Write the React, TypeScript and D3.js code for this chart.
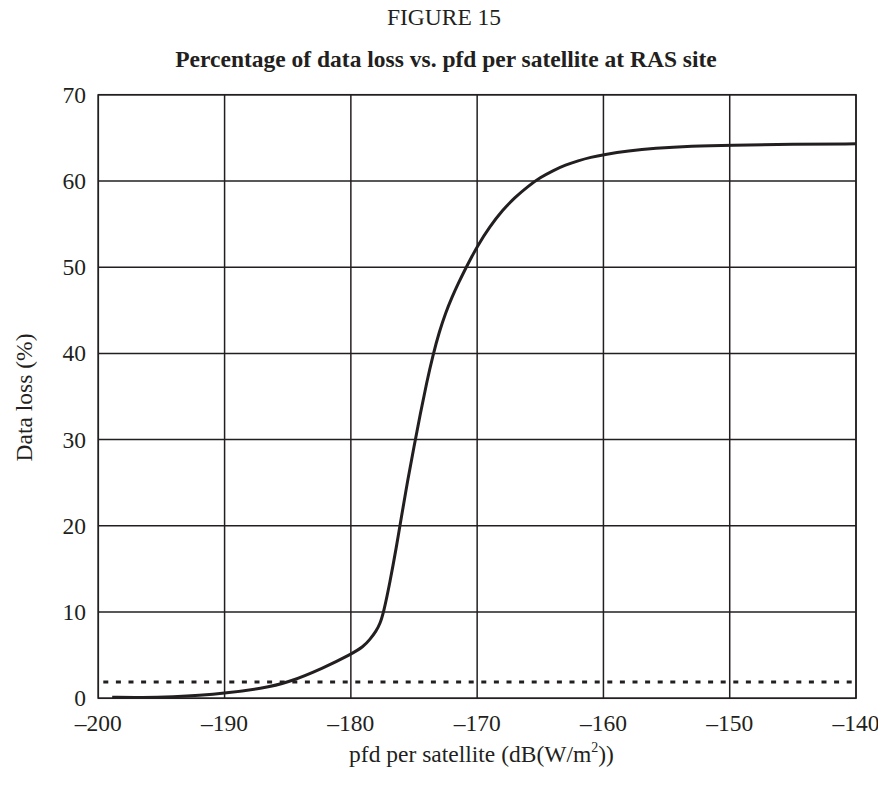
import React from "react";
import * as d3 from "d3";

const xTicks = [-200, -190, -180, -170, -160, -150, -140];
const yTicks = [0, 10, 20, 30, 40, 50, 60, 70];

const pfd = [-198.9, -196.5, -194, -192, -190, -187, -185, -182.2, -180, -179, -178.5, -178, -177.7, -177.4, -176.9, -176.4, -176.0, -175.5, -175, -174.5, -174, -173.5, -173, -172.5, -172, -171.5, -171, -170.5, -170, -169, -168, -167, -166, -165, -164, -163, -162, -161, -160, -158, -156, -153, -150, -145, -140];
const loss = [0.12, 0.08, 0.18, 0.33, 0.58, 1.15, 1.8, 3.5, 5.1, 6.0, 6.8, 7.8, 8.6, 10, 13.5, 17.5, 21, 25.3, 29.2, 33.0, 36.6, 39.8, 42.5, 44.7, 46.5, 48.1, 49.6, 51.0, 52.4, 54.7, 56.6, 58.1, 59.35, 60.4, 61.2, 61.85, 62.35, 62.75, 63.05, 63.5, 63.8, 64.05, 64.15, 64.25, 64.3];
const threshold = 1.9;

const W = 878;
const H = 786;
const left = 98.3;
const right = 856;
const top = 94.7;
const bottom = 698.3;
const ink = "#231f20";
const font = "'Liberation Serif', 'Times New Roman', serif";

export default function App() {
  const x = d3.scaleLinear().domain([-200, -140]).range([left, right]);
  const y = d3.scaleLinear().domain([0, 70]).range([bottom, top]);
  const pts: [number, number][] = pfd.map((p, i) => [p, loss[i]]);
  const line = d3
    .line<[number, number]>()
    .x((d) => x(d[0]))
    .y((d) => y(d[1]))
    .curve(d3.curveBasis);

  return (
    <svg
      width={W}
      height={H}
      style={{ position: "absolute", left: 0, top: 0, background: "#fff" }}
      fontFamily={font}
    >
      <text x={444} y={25} textAnchor="middle" fontSize={23.5} fill={ink}>
        FIGURE 15
      </text>
      <text x={446} y={67} textAnchor="middle" fontSize={23.5} fontWeight="bold" fill={ink}>
        Percentage of data loss vs. pfd per satellite at RAS site
      </text>

      {yTicks.map((t) => (
        <line key={"gy" + t} x1={left} x2={right} y1={y(t)} y2={y(t)} stroke={ink} strokeWidth={1.5} />
      ))}
      {xTicks.map((t) => (
        <line key={"gx" + t} x1={x(t)} x2={x(t)} y1={top} y2={bottom} stroke={ink} strokeWidth={1.5} />
      ))}
      <rect x={left} y={top} width={right - left} height={bottom - top} fill="none" stroke={ink} strokeWidth={1.5} />

      <line
        x1={left}
        x2={right}
        y1={y(threshold)}
        y2={y(threshold)}
        stroke={ink}
        strokeWidth={3}
        strokeDasharray="5,7.6"
        strokeDashoffset={-5}
      />
      <path d={line(pts) || ""} fill="none" stroke={ink} strokeWidth={3} />

      {yTicks.map((t) => (
        <text key={"ly" + t} x={86} y={y(t) + 8} textAnchor="end" fontSize={23.5} fill={ink}>
          {t}
        </text>
      ))}
      {xTicks.map((t) => (
        <text key={"lx" + t} x={x(t)} y={731} textAnchor="middle" fontSize={23.5} fill={ink}>
          {t < 0 ? "\u2013" + Math.abs(t) : t}
        </text>
      ))}

      <text
        transform={`translate(32, 397.5) rotate(-90)`}
        textAnchor="middle"
        fontSize={23.5}
        fill={ink}
      >
        Data loss (%)
      </text>
      <text x={481.5} y={762} textAnchor="middle" fontSize={23.5} fill={ink}>
        pfd per satellite (dB(W/m
        <tspan dy={-10} fontSize={14}>2</tspan>
        <tspan dy={10}>))</tspan>
      </text>
    </svg>
  );
}
